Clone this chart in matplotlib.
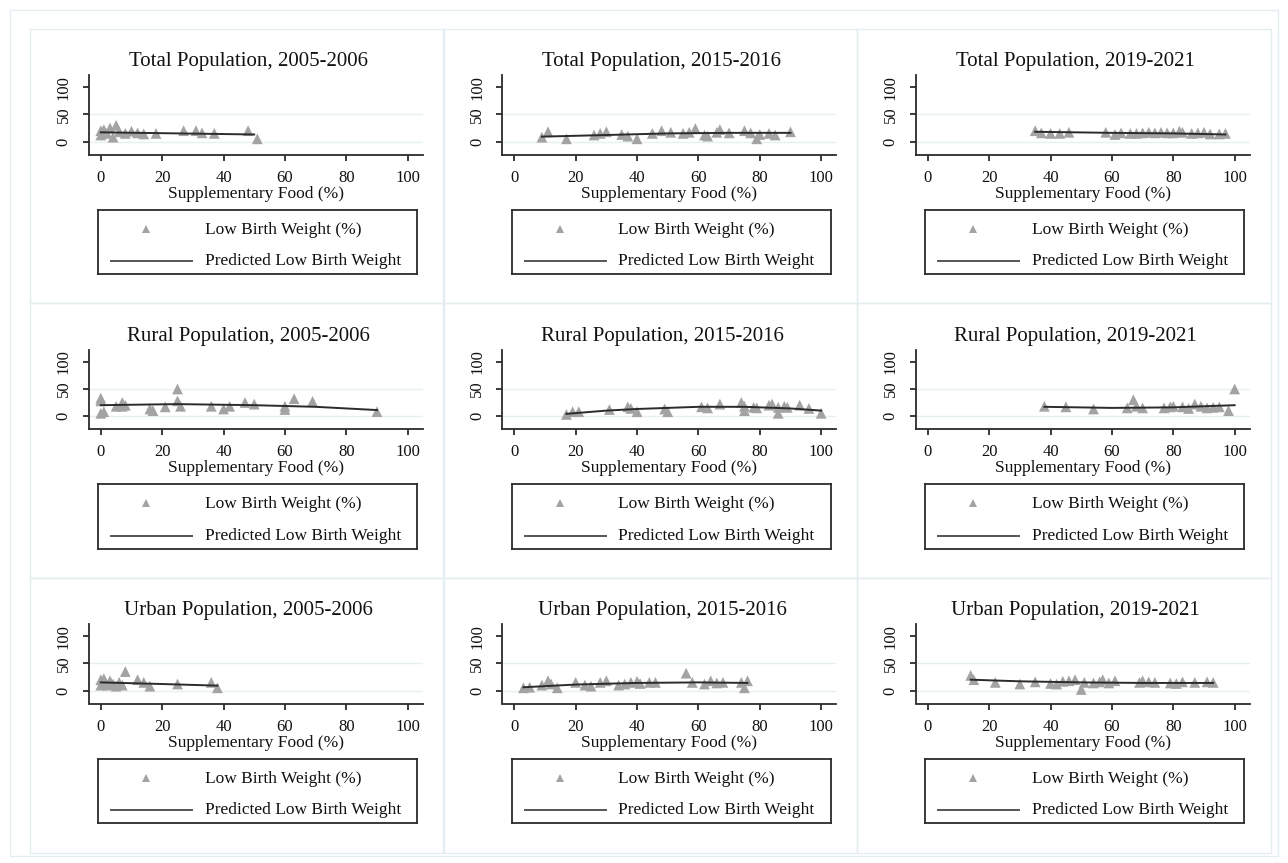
import matplotlib
matplotlib.use("Agg")
import matplotlib.pyplot as plt
from matplotlib.patches import Rectangle
from matplotlib.lines import Line2D

W, H = 1288, 863
plt.rcParams['font.family'] = ['Liberation Serif', 'DejaVu Serif']

titles = [
    "Total Population, 2005-2006", "Total Population, 2015-2016", "Total Population, 2019-2021",
    "Rural Population, 2005-2006", "Rural Population, 2015-2016", "Rural Population, 2019-2021",
    "Urban Population, 2005-2006", "Urban Population, 2015-2016", "Urban Population, 2019-2021",
]

# scatter data: (supplementary food %, low birth weight %)
tot05_x = [0, 0, 1, 2, 3, 4, 5, 6, 8, 10, 12, 14, 18, 27, 31, 33, 37, 48, 51]
tot05_y = [12, 20, 22, 15, 25, 8, 30, 18, 15, 19, 16, 14, 15, 20, 20, 16, 15, 20, 5]
tot15_x = [9, 11, 17, 26, 28, 30, 35, 37, 40, 45, 48, 51, 55, 57, 59, 62, 63, 66, 67, 70, 75, 77, 79, 80, 83, 85, 90]
tot15_y = [8, 18, 5, 12, 15, 18, 13, 10, 5, 15, 20, 17, 15, 17, 24, 12, 10, 17, 22, 16, 20, 16, 5, 13, 15, 12, 18]
tot19_x = [35, 37, 40, 43, 46, 58, 61, 63, 66, 68, 70, 72, 74, 76, 78, 80, 82, 83, 86, 88, 90, 92, 95, 97]
tot19_y = [20, 16, 15, 15, 17, 17, 13, 16, 15, 15, 16, 17, 16, 17, 16, 16, 19, 17, 15, 16, 17, 14, 14, 15]
rur05_x = [0, 0, 0, 1, 5, 7, 7, 8, 16, 17, 21, 25, 25, 26, 36, 40, 42, 47, 50, 60, 60, 63, 69, 90]
rur05_y = [33, 28, 5, 8, 18, 25, 18, 20, 13, 10, 17, 50, 28, 18, 18, 13, 18, 25, 22, 18, 12, 32, 27, 8]
rur15_x = [17, 19, 21, 31, 37, 38, 40, 49, 50, 61, 63, 67, 74, 75, 75, 78, 79, 83, 84, 86, 86, 88, 89, 93, 96, 100]
rur15_y = [3, 8, 8, 12, 17, 14, 8, 13, 8, 17, 15, 22, 25, 18, 10, 16, 15, 20, 22, 16, 5, 18, 16, 20, 14, 5]
rur19_x = [38, 45, 54, 65, 67, 68, 70, 77, 79, 80, 83, 85, 87, 89, 91, 93, 95, 98, 100]
rur19_y = [18, 17, 13, 15, 30, 18, 15, 15, 17, 18, 17, 14, 22, 18, 15, 16, 17, 10, 50]
urb05_x = [0, 0, 1, 1, 2, 3, 4, 5, 6, 7, 8, 12, 14, 16, 25, 36, 38]
urb05_y = [10, 20, 15, 22, 10, 18, 12, 8, 15, 10, 35, 20, 15, 8, 12, 15, 5]
urb15_x = [3, 5, 9, 11, 12, 14, 20, 23, 25, 28, 30, 34, 36, 38, 40, 41, 44, 46, 56, 58, 62, 64, 66, 68, 74, 75, 76]
urb15_y = [5, 6, 10, 18, 12, 5, 15, 10, 8, 15, 18, 10, 12, 15, 17, 13, 15, 15, 32, 15, 12, 18, 14, 15, 15, 5, 18]
urb19_x = [14, 15, 22, 30, 35, 40, 42, 44, 46, 48, 50, 51, 54, 56, 57, 59, 61, 69, 70, 72, 74, 79, 81, 83, 87, 91, 93]
urb19_y = [28, 20, 15, 12, 16, 13, 12, 17, 18, 20, 2, 15, 14, 16, 20, 14, 18, 15, 18, 16, 15, 14, 13, 16, 15, 16, 15]

# predicted (fitted) lines
pred_tot05_x = [0, 25, 50]
pred_tot05_y = [17, 15, 13]
pred_tot15_x = [9, 30, 50, 70, 90]
pred_tot15_y = [9, 12, 15, 16, 16]
pred_tot19_x = [35, 60, 80, 97]
pred_tot19_y = [18, 16, 15, 13]
pred_rur05_x = [0, 25, 50, 70, 90]
pred_rur05_y = [20, 22, 20, 17, 11]
pred_rur15_x = [17, 30, 40, 60, 75, 90, 100]
pred_rur15_y = [4, 10, 13, 17, 17, 14, 10]
pred_rur19_x = [38, 60, 80, 100]
pred_rur19_y = [17, 15, 16, 20]
pred_urb05_x = [0, 20, 38]
pred_urb05_y = [15, 12, 9]
pred_urb15_x = [3, 20, 40, 60, 76]
pred_urb15_y = [6, 11, 14, 15, 14]
pred_urb19_x = [14, 30, 50, 70, 93]
pred_urb19_y = [20, 17, 15, 14, 14]

scatter_x = [tot05_x, tot15_x, tot19_x, rur05_x, rur15_x, rur19_x, urb05_x, urb15_x, urb19_x]
scatter_y = [tot05_y, tot15_y, tot19_y, rur05_y, rur15_y, rur19_y, urb05_y, urb15_y, urb19_y]
pred_x = [pred_tot05_x, pred_tot15_x, pred_tot19_x, pred_rur05_x, pred_rur15_x, pred_rur19_x,
          pred_urb05_x, pred_urb15_x, pred_urb19_x]
pred_y = [pred_tot05_y, pred_tot15_y, pred_tot19_y, pred_rur05_y, pred_rur15_y, pred_rur19_y,
          pred_urb05_y, pred_urb15_y, pred_urb19_y]

x_ticks = [0, 20, 40, 60, 80, 100]
y_ticks = [0, 50, 100]
x_label = "Supplementary Food (%)"
legend_labels = ["Low Birth Weight (%)", "Predicted Low Birth Weight"]

DARK = "#2b2b2b"
MARK = "#a3a3a3"
GRID = "#e6eff1"
BORDER = "#e4edf0"

fig = plt.figure(figsize=(W / 100, H / 100), dpi=100)
fig.patch.set_facecolor("white")


def rect(x0, y0, w, h):
    return [x0 / W, 1 - (y0 + h) / H, w / W, h / H]


# outer frame
fig.patches.append(Rectangle((10 / W, 1 - 856 / H), 1268 / W, 846 / H, transform=fig.transFigure,
                             fill=False, edgecolor=BORDER, lw=1.0, zorder=-2))

col_x = [30, 443.5, 857]
row_y = [29, 303.5, 578]
cw, ch = 413.5, 274.5

for i in range(9):
    r, c = divmod(i, 3)
    cx, cy = col_x[c], row_y[r]
    fig.patches.append(Rectangle((cx / W, 1 - (cy + ch) / H), cw / W, ch / H, transform=fig.transFigure,
                                 fill=False, edgecolor=BORDER, lw=1.0, zorder=-1))
    ax = fig.add_axes(rect(cx + 58.5, cy + 46.5, 334.5, 79))
    ax.set_facecolor("none")
    ax.set_xlim(-4, 105)
    ax.set_ylim(-24, 122)
    for g in [0, 50]:
        ax.axhline(g, color=GRID, lw=1.0, zorder=0)
    ax.scatter(scatter_x[i], scatter_y[i], marker="^", s=60, color=MARK, edgecolors="none", zorder=2)
    ax.plot(pred_x[i], pred_y[i], color=DARK, lw=1.4, zorder=3)
    for s in ["top", "right"]:
        ax.spines[s].set_visible(False)
    for s in ["left", "bottom"]:
        ax.spines[s].set_color(DARK)
        ax.spines[s].set_linewidth(1.3)
    ax.set_xticks(x_ticks)
    ax.set_yticks(y_ticks)
    ax.set_yticklabels([str(v) for v in y_ticks], rotation=90, va="center")
    ax.tick_params(axis="both", direction="out", length=4, width=1.3, color=DARK,
                   labelsize=12, labelcolor="#111111")
    ax.tick_params(axis="x", pad=7)
    ax.tick_params(axis="y", pad=8)
    ax.set_xlabel(x_label, fontsize=12.5, color="#111111")
    ax.xaxis.set_label_coords(0.5, -(193 - 154) / 79)
    ax.xaxis.label.set_verticalalignment("center")
    ax.set_title(titles[i], fontsize=15, color="#111111", x=(249 - 89) / 334.5, y=1 + 14 / 79,
                 pad=0, va="center")

    # legend box
    lax = fig.add_axes(rect(cx + 68, cy + 181, 319, 64))
    lax.set_facecolor("white")
    lax.set_xlim(0, 319)
    lax.set_ylim(64, 0)
    lax.set_xticks([])
    lax.set_yticks([])
    for s in lax.spines.values():
        s.set_color(DARK)
        s.set_linewidth(1.3)
    lax.add_line(Line2D([48], [19], marker="^", markersize=6, color=MARK, markeredgewidth=0, linestyle="none"))
    lax.add_line(Line2D([13, 94], [51, 51], color="#555555", lw=1.4))
    lax.text(107, 20, legend_labels[0], fontsize=12.5, va="center", ha="left", color="#111111")
    lax.text(107, 51, legend_labels[1], fontsize=12.5, va="center", ha="left", color="#111111")

fig.savefig("out.png", dpi=100)
